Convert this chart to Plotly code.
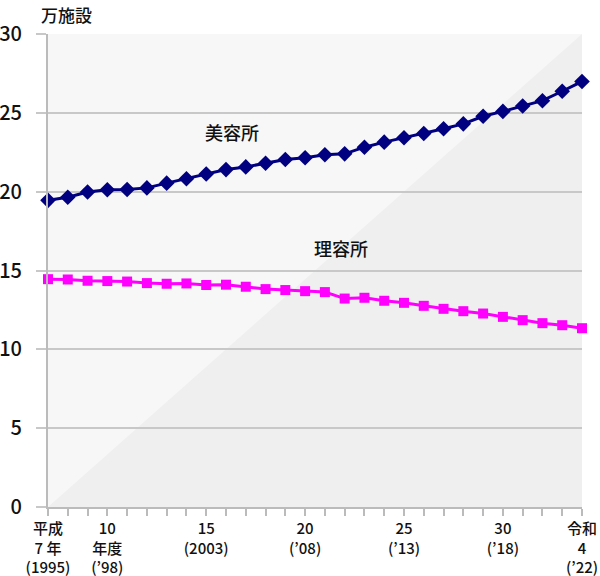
import plotly.graph_objects as go

# 年度 (1995〜2022)
years = list(range(1995, 2023))

# 美容所 (万施設)
biyo = [19.45, 19.65, 19.98, 20.12, 20.14, 20.24, 20.54, 20.82, 21.12, 21.40, 21.57, 21.80,
        22.04, 22.15, 22.34, 22.40, 22.82, 23.14, 23.42, 23.69, 23.99, 24.30, 24.78, 25.09,
        25.43, 25.77, 26.37, 26.99]

# 理容所 (万施設)
riyo = [14.45, 14.43, 14.35, 14.33, 14.30, 14.20, 14.16, 14.18, 14.08, 14.10, 13.97, 13.82,
        13.76, 13.69, 13.63, 13.22, 13.27, 13.08, 12.95, 12.76, 12.57, 12.42, 12.27, 12.06,
        11.85, 11.66, 11.53, 11.34]

tick_labels = {
    1995: "平成<br>7 年<br>(1995)",
    1998: "10<br>年度<br>(’98)",
    2003: "15<br>(2003)",
    2008: "20<br>(’08)",
    2013: "25<br>(’13)",
    2018: "30<br>(’18)",
    2022: "令和<br>4<br>(’22)",
}

FONT = "Noto Sans CJK JP"

fig = go.Figure()

fig.add_trace(go.Scatter(
    x=years, y=riyo, name="理容所", mode="lines+markers",
    line=dict(color="#ff00ff", width=3),
    marker=dict(symbol="square", size=10, color="#ff00ff"),
    cliponaxis=False, showlegend=False,
))

fig.add_trace(go.Scatter(
    x=years, y=biyo, name="美容所", mode="lines+markers",
    line=dict(color="#000080", width=3),
    marker=dict(symbol="diamond", size=12, color="#000080"),
    cliponaxis=False, showlegend=False,
))

# 背景の斜めの三角形
fig.add_shape(type="path", xref="paper", yref="paper",
              path="M0,0 L1,1 L1,0 Z", fillcolor="#efefef",
              line=dict(width=0), layer="below")

fig.add_annotation(x=2004.3, y=23.8, text="美容所", showarrow=False,
                   font=dict(size=18, color="#111", family=FONT, weight=500))
fig.add_annotation(x=2009.8, y=16.4, text="理容所", showarrow=False,
                   font=dict(size=18, color="#111", family=FONT, weight=500))
fig.add_annotation(x=-0.016, y=1.0, xref="paper", yref="paper", yshift=34,
                   text="万施設", showarrow=False, xanchor="left", yanchor="top",
                   font=dict(size=17, color="#111", family=FONT, weight=500))

fig.update_xaxes(
    range=[1995, 2022],
    tickvals=years,
    ticktext=[tick_labels.get(y, "") for y in years],
    ticks="outside", ticklen=7, tickcolor="#bbbbbb", tickwidth=1.5,
    showline=True, linecolor="#bbbbbb", linewidth=2,
    showgrid=False, zeroline=False,
    tickfont=dict(size=15, color="#111", family=FONT, weight=500),
    tickangle=0, automargin=False,
)
fig.update_yaxes(
    range=[0, 30], dtick=5,
    ticks="outside", ticklen=10, tickcolor="#c8c8c8", tickwidth=2,
    showline=True, linecolor="#bbbbbb", linewidth=2,
    showgrid=True, gridcolor="#c8c8c8", gridwidth=2,
    zeroline=False,
    tickfont=dict(size=20, color="#111", family=FONT, weight=500),
    ticklabelstandoff=10, automargin=False,
)

fig.update_layout(
    width=600, height=576,
    margin=dict(l=48, r=18, t=34, b=69),
    paper_bgcolor="white",
    plot_bgcolor="#f7f7f7",
    font=dict(family=FONT),
)

fig.write_html("out.html", config={"displayModeBar": False},
               post_script="document.body.style.margin='0';")
